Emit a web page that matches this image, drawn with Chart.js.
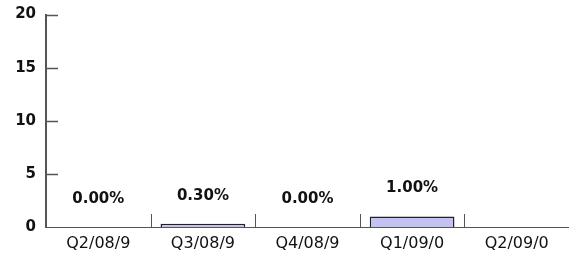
<!DOCTYPE html>
<html>
<head>
<meta charset="utf-8">
<script src="https://cdn.jsdelivr.net/npm/chart.js@4"></script>
<style>
  html, body { margin: 0; padding: 0; background: #fff; overflow: hidden; }
  #wrap { width: 569px; height: 260px; }
</style>
</head>
<body>
<div id="wrap"><canvas id="quarters"></canvas></div>
<script>
const quarterLabels = ['Q2/08/9', 'Q3/08/9', 'Q4/08/9', 'Q1/09/0', 'Q2/09/0'];
const growthValues = [0, 0.3, 0, 1.0, null];
const growthText = ['0.00%', '0.30%', '0.00%', '1.00%', ''];
const yTicks = [0, 5, 10, 15, 20];

const axisColor = '#555';

// small tick marks drawn inward, plus the value labels above each bar
const insideTicks = {
  id: 'insideTicks',
  afterDraw(chart) {
    const c = chart.ctx;
    const x = chart.scales.x;
    const y = chart.scales.y;
    const area = chart.chartArea;
    c.save();
    c.strokeStyle = axisColor;
    c.lineWidth = 1.5;
    yTicks.forEach(v => {
      const py = Math.round(y.getPixelForValue(v)) + 0.5;
      if (v === 0) return;
      c.beginPath();
      c.moveTo(area.left, py);
      c.lineTo(area.left + 12, py);
      c.stroke();
    });
    c.lineWidth = 1;
    for (let i = 1; i < quarterLabels.length; i++) {
      const px = Math.round((x.getPixelForValue(i - 1) + x.getPixelForValue(i)) / 2) + 0.5;
      c.beginPath();
      c.moveTo(px, area.bottom);
      c.lineTo(px, area.bottom - 13);
      c.stroke();
    }
    c.fillStyle = '#111';
    c.font = 'bold 15px "DejaVu Sans"';
    c.textAlign = 'center';
    c.textBaseline = 'middle';
    growthText.forEach((t, i) => {
      if (!t) return;
      const px = x.getPixelForValue(i);
      const py = y.getPixelForValue(growthValues[i] || 0) - 28;
      c.fillText(t, px, py);
    });
    c.restore();
  }
};

new Chart(document.getElementById('quarters').getContext('2d'), {
  type: 'bar',
  data: {
    labels: quarterLabels,
    datasets: [{
      data: growthValues,
      backgroundColor: '#c2c2f5',
      borderColor: '#222',
      borderWidth: 1.5,
      barPercentage: 0.81,
      categoryPercentage: 1
    }]
  },
  options: {
    responsive: true,
    maintainAspectRatio: false,
    animation: false,
    layout: { padding: { top: 0, right: 0, bottom: 0, left: 0 } },
    plugins: { legend: { display: false }, tooltip: { enabled: false } },
    scales: {
      x: {
        grid: { display: false, drawTicks: false },
        border: { color: axisColor, width: 1 },
        ticks: { color: '#111', font: { family: 'DejaVu Sans', size: 16, lineHeight: 0.75 }, padding: 10.5, maxRotation: 0 }
      },
      y: {
        min: 0,
        max: 20,
        afterBuildTicks(scale) { scale.ticks = yTicks.map(v => ({ value: v })); },
        grid: { display: false, drawTicks: false },
        border: { color: axisColor, width: 2 },
        afterFit(scale) { scale.width = 46; },
        ticks: { color: '#111', font: { family: 'DejaVu Sans', size: 15, weight: 'bold', lineHeight: 0.6 }, padding: 10 }
      }
    }
  },
  plugins: [insideTicks]
});
</script>
</body>
</html>
